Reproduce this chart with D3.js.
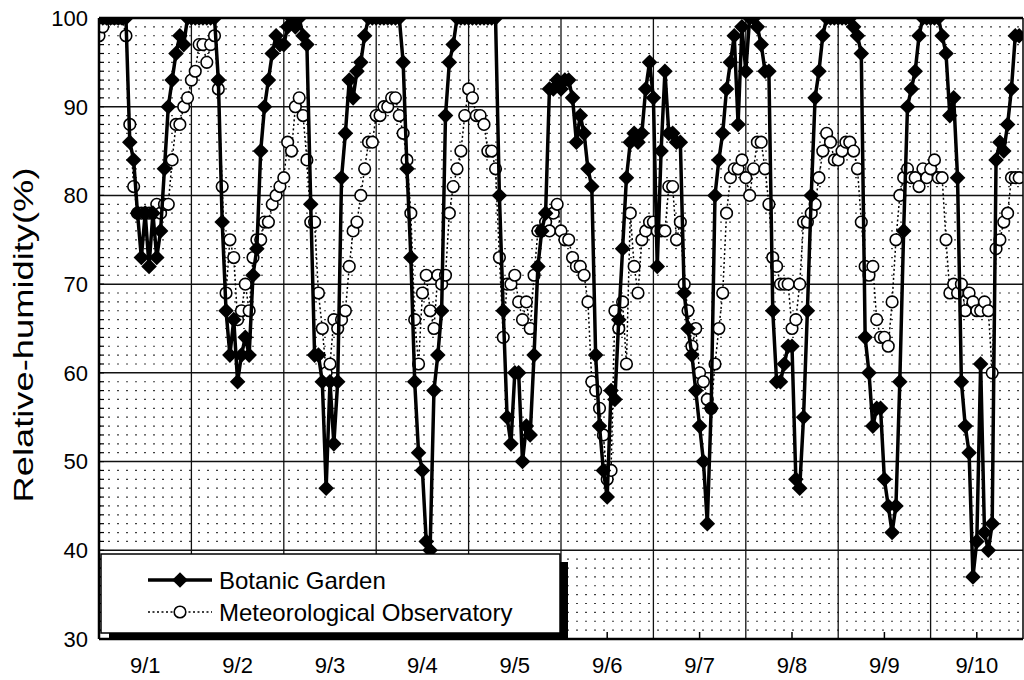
<!DOCTYPE html>
<html>
<head>
<meta charset="utf-8">
<script src="https://cdn.jsdelivr.net/npm/d3@7"></script>
<style>
  body { margin: 0; background: #fff; }
  svg { display: block; }
  text { font-family: "Liberation Sans", Arial, Helvetica, sans-serif; fill: #000; }
</style>
</head>
<body>
<svg id="chart"></svg>
<script>
const width = 1024;
const height = 680;
const margin = {top: 18, right: 1, bottom: 41, left: 99};

// tick labels
const dayLabels = ["9/1", "9/2", "9/3", "9/4", "9/5", "9/6", "9/7", "9/8", "9/9", "9/10"];
const yTicks = [30, 40, 50, 60, 70, 80, 90, 100];

// hourly relative humidity (%), 9/1 0h .. 9/10 23h
const botanic = [
  100,100,100,100,100,100,100,100,86,84,78,73,78,72,78,73,76,83,90,93,96,98,97,100,
  100,100,100,100,100,100,100,93,77,67,62,66,59,62,64,62,71,74,85,90,93,96,98,97,
  97,99,100,99,100,98,97,79,62,62,59,47,59,52,59,82,87,93,91,94,95,98,100,100,
  100,100,100,100,100,100,100,95,83,73,59,51,49,41,40,58,62,67,89,95,97,100,100,100,
  100,100,100,100,100,100,100,100,80,67,55,52,60,60,50,54,53,62,72,76,78,92,92,93,
  92,93,93,91,86,89,87,83,81,62,54,49,46,58,57,66,74,82,86,87,86,87,92,95,
  91,72,85,94,87,87,86,86,69,65,62,58,54,50,43,56,80,84,87,92,95,98,88,99,
  94,100,100,99,97,94,94,67,59,59,61,63,63,48,47,55,67,80,91,94,98,100,100,100,
  100,100,100,100,99,98,96,64,60,54,56,56,48,45,42,45,59,76,90,92,94,98,100,100,
  100,100,100,98,96,89,91,82,59,54,51,37,41,61,42,40,43,84,86,85,88,92,98,98
];

const observatory = [
  98,99,100,100,100,100,100,98,88,81,78,78,78,78,78,79,78,79,79,84,88,88,90,91,
  93,94,97,97,95,97,98,92,81,69,75,73,66,67,70,67,73,75,75,77,77,79,80,81,
  82,86,85,90,91,89,84,77,77,69,65,60,61,66,65,66,67,72,76,77,80,83,86,86,
  89,89,90,90,91,91,89,87,84,78,66,61,69,71,67,65,71,70,71,78,81,83,85,89,
  92,91,89,89,88,85,85,83,73,64,70,70,71,68,66,68,65,71,76,76,77,76,78,79,
  76,75,75,73,72,72,71,68,59,58,56,53,48,49,67,65,68,61,78,72,69,75,76,77,
  77,76,76,76,81,81,75,77,70,67,63,65,60,59,57,56,61,65,69,78,82,83,83,84,
  82,80,83,86,86,83,79,73,72,70,70,70,65,66,70,77,77,78,79,82,85,87,86,84,
  84,85,86,86,85,83,77,72,71,72,66,64,64,63,68,75,80,82,83,82,82,81,83,82,
  83,84,82,82,75,69,70,69,70,67,69,68,67,67,68,67,60,74,75,77,78,82,82,82
];

const svg = d3.select("#chart")
  .attr("width", width)
  .attr("height", height)
  .attr("viewBox", [0, 0, width, height]);

const x = d3.scaleLinear([0, dayLabels.length * 24], [margin.left, width - margin.right]);
const y = d3.scaleLinear([30, 100], [height - margin.bottom, margin.top]);

// clip for the plot area
svg.append("clipPath").attr("id", "plot-clip")
  .append("rect")
  .attr("x", x(0)).attr("y", y(100))
  .attr("width", x(240) - x(0)).attr("height", y(30) - y(100));

// minor dotted grid, every 1 %
const minor = d3.range(31, 100).filter(v => v % 10 !== 0);
svg.append("g")
  .selectAll("line")
  .data(minor)
  .join("line")
    .attr("x1", x(0)).attr("x2", x(240))
    .attr("y1", d => y(d)).attr("y2", d => y(d))
    .attr("stroke", "#000")
    .attr("stroke-width", 1.2)
    .attr("stroke-dasharray", "2,7")
    .attr("stroke-opacity", 0.75);

// major grid
svg.append("g")
  .selectAll("line")
  .data(yTicks.filter(v => v > 30 && v < 100))
  .join("line")
    .attr("x1", x(0)).attr("x2", x(240))
    .attr("y1", d => y(d)).attr("y2", d => y(d))
    .attr("stroke", "#111")
    .attr("stroke-width", 1.5);

svg.append("g")
  .selectAll("line")
  .data(d3.range(1, dayLabels.length))
  .join("line")
    .attr("x1", d => x(d * 24)).attr("x2", d => x(d * 24))
    .attr("y1", y(100)).attr("y2", y(30))
    .attr("stroke", "#111")
    .attr("stroke-width", 1.3);

// left axis minor ticks
svg.append("g")
  .selectAll("line")
  .data(d3.range(31, 100))
  .join("line")
    .attr("x1", x(0)).attr("x2", x(0) + 5)
    .attr("y1", d => y(d)).attr("y2", d => y(d))
    .attr("stroke", "#000")
    .attr("stroke-width", 1.2);

// y axis labels
svg.append("g")
  .selectAll("text")
  .data(yTicks)
  .join("text")
    .attr("x", 88)
    .attr("y", d => y(d))
    .attr("dy", "0.36em")
    .attr("text-anchor", "end")
    .style("font-size", "22px")
    .text(d => d);

// x axis: ticks at noon, labels below
svg.append("g")
  .selectAll("line")
  .data(dayLabels)
  .join("line")
    .attr("x1", (d, i) => x(i * 24 + 12)).attr("x2", (d, i) => x(i * 24 + 12))
    .attr("y1", y(30)).attr("y2", y(30) - 7)
    .attr("stroke", "#000")
    .attr("stroke-width", 1.5);

svg.append("g")
  .selectAll("text")
  .data(dayLabels)
  .join("text")
    .attr("x", (d, i) => x(i * 24 + 12))
    .attr("y", 673)
    .attr("text-anchor", "middle")
    .style("font-size", "22px")
    .text(d => d);

// y title
svg.append("text")
  .attr("transform", `translate(33,${335}) rotate(-90)`)
  .attr("text-anchor", "middle")
  .attr("textLength", 335)
  .attr("lengthAdjust", "spacingAndGlyphs")
  .style("font-size", "27px")
  .text("Relative-humidity(%)");

// series
const line = d3.line()
  .x((d, i) => x(i))
  .y(d => y(d));

const diamond = "M0,-7.8L7.8,0L0,7.8L-7.8,0Z";

const plot = svg.append("g").attr("clip-path", "url(#plot-clip)");

plot.append("path")
  .datum(observatory)
  .attr("fill", "none")
  .attr("stroke", "#000")
  .attr("stroke-width", 1.5)
  .attr("stroke-dasharray", "2,2.5")
  .attr("d", line);

plot.append("g")
  .selectAll("circle")
  .data(observatory)
  .join("circle")
    .attr("cx", (d, i) => x(i))
    .attr("cy", d => y(d))
    .attr("r", 5.8)
    .attr("fill", "#fff")
    .attr("stroke", "#000")
    .attr("stroke-width", 1.6);

plot.append("path")
  .datum(botanic)
  .attr("fill", "none")
  .attr("stroke", "#000")
  .attr("stroke-width", 3.5)
  .attr("stroke-linejoin", "round")
  .attr("d", line);

plot.append("g")
  .selectAll("path")
  .data(botanic)
  .join("path")
    .attr("transform", (d, i) => `translate(${x(i)},${y(d)})`)
    .attr("d", diamond)
    .attr("fill", "#000");

// frame
svg.append("line")
  .attr("x1", x(0)).attr("x2", x(240)).attr("y1", y(100)).attr("y2", y(100))
  .attr("stroke", "#000").attr("stroke-width", 2.5);
svg.append("line")
  .attr("x1", x(0)).attr("x2", x(240)).attr("y1", y(30)).attr("y2", y(30))
  .attr("stroke", "#000").attr("stroke-width", 2.5);
svg.append("line")
  .attr("x1", x(0)).attr("x2", x(0)).attr("y1", y(100)).attr("y2", y(30))
  .attr("stroke", "#000").attr("stroke-width", 2.5);
svg.append("line")
  .attr("x1", x(240)).attr("x2", x(240)).attr("y1", y(100)).attr("y2", y(30))
  .attr("stroke", "#000").attr("stroke-width", 1.5);

// legend with drop shadow
const legend = svg.append("g");
legend.append("rect")
  .attr("x", 109).attr("y", 562).attr("width", 459).attr("height", 78)
  .attr("fill", "#000");
legend.append("rect")
  .attr("x", 101).attr("y", 554).attr("width", 459).attr("height", 79)
  .attr("fill", "#fff")
  .attr("stroke", "#000")
  .attr("stroke-width", 1.5);

const entries = [
  {name: "Botanic Garden", y: 580, botanic: true},
  {name: "Meteorological Observatory", y: 612, botanic: false}
];

const entry = legend.selectAll("g.entry")
  .data(entries)
  .join("g")
    .attr("class", "entry")
    .attr("transform", d => `translate(0,${d.y})`);

entry.append("line")
  .attr("x1", 148).attr("x2", 212)
  .attr("stroke", "#000")
  .attr("stroke-width", d => d.botanic ? 3.5 : 1.5)
  .attr("stroke-dasharray", d => d.botanic ? null : "2,2.5");

entry.filter(d => d.botanic).append("path")
  .attr("transform", "translate(180,0)")
  .attr("d", diamond)
  .attr("fill", "#000");

entry.filter(d => !d.botanic).append("circle")
  .attr("cx", 180)
  .attr("r", 5.8)
  .attr("fill", "#fff")
  .attr("stroke", "#000")
  .attr("stroke-width", 1.6);

entry.append("text")
  .attr("x", 219)
  .attr("dy", "0.36em")
  .style("font-size", "24px")
  .text(d => d.name);
</script>
</body>
</html>
